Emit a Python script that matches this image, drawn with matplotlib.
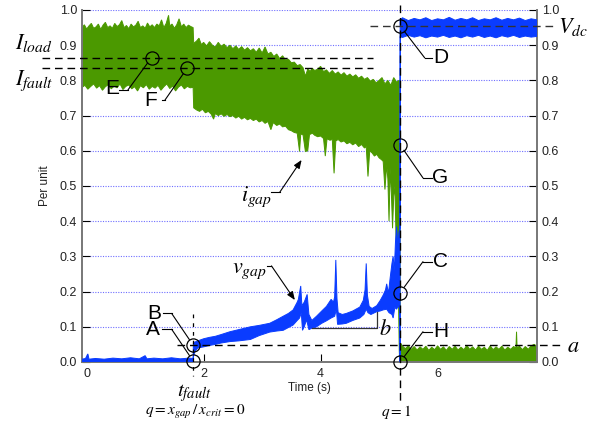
import numpy as np
import matplotlib
matplotlib.use("Agg")
import matplotlib.pyplot as plt

plt.rcParams['font.family'] = ['Liberation Sans', 'DejaVu Sans']
plt.rcParams['mathtext.fontset'] = 'stix'

# ---------------- data ----------------
# i_gap (per unit) envelope : (time s, value)
green_upper = [
    (-0.08, 0.950), (-0.04, 0.958), (0.00, 0.946), (0.04, 0.955), (0.08, 0.962), (0.12, 0.948),
    (0.16, 0.952), (0.20, 0.960), (0.24, 0.945), (0.28, 0.957), (0.32, 0.965), (0.36, 0.950),
    (0.40, 0.955), (0.44, 0.948), (0.48, 0.962), (0.52, 0.953), (0.56, 0.958), (0.60, 0.970),
    (0.64, 0.950), (0.68, 0.956), (0.72, 0.947), (0.76, 0.960), (0.80, 0.952), (0.84, 0.957),
    (0.88, 0.968), (0.92, 0.950), (0.96, 0.955), (1.00, 0.948), (1.04, 0.963), (1.08, 0.952),
    (1.12, 0.958), (1.16, 0.950), (1.20, 0.960), (1.24, 0.955), (1.28, 0.972), (1.32, 0.950),
    (1.36, 0.962), (1.40, 0.985), (1.42, 0.955), (1.46, 0.960), (1.50, 0.948), (1.54, 0.958),
    (1.58, 0.975), (1.62, 0.952), (1.66, 0.960), (1.70, 0.950), (1.74, 0.957), (1.78, 0.953),
    (1.82, 0.950),
    (1.83, 0.905), (1.88, 0.912), (1.92, 0.920), (1.96, 0.902), (2.00, 0.908), (2.05, 0.898),
    (2.10, 0.910), (2.15, 0.900), (2.20, 0.895), (2.25, 0.908), (2.30, 0.897), (2.35, 0.903),
    (2.40, 0.893), (2.45, 0.900), (2.50, 0.890), (2.55, 0.898), (2.60, 0.888), (2.65, 0.896),
    (2.70, 0.886), (2.75, 0.893), (2.80, 0.884), (2.85, 0.890), (2.90, 0.880), (2.95, 0.892),
    (3.00, 0.878), (3.05, 0.895), (3.10, 0.875), (3.15, 0.880), (3.20, 0.868), (3.25, 0.875),
    (3.30, 0.862), (3.35, 0.870), (3.40, 0.858), (3.45, 0.860), (3.50, 0.850), (3.55, 0.852),
    (3.60, 0.842), (3.65, 0.845), (3.70, 0.836), (3.74, 0.812), (3.78, 0.832), (3.82, 0.826),
    (3.86, 0.834), (3.90, 0.828), (3.95, 0.832), (4.00, 0.840), (4.05, 0.825), (4.10, 0.830),
    (4.15, 0.820), (4.20, 0.828), (4.25, 0.818), (4.30, 0.824), (4.35, 0.815), (4.40, 0.822),
    (4.45, 0.812), (4.50, 0.818), (4.55, 0.810), (4.60, 0.816), (4.65, 0.806), (4.70, 0.812),
    (4.75, 0.803), (4.80, 0.808), (4.85, 0.798), (4.90, 0.803), (4.95, 0.793), (5.00, 0.800),
    (5.05, 0.808), (5.10, 0.790), (5.15, 0.800), (5.20, 0.786), (5.25, 0.808), (5.30, 0.795),
    (5.34, 0.800), (5.355, 0.800),
    (5.36, 0.055), (5.40, 0.045), (5.45, 0.038), (5.50, 0.046), (5.55, 0.036), (5.60, 0.044),
    (5.65, 0.034), (5.70, 0.043), (5.75, 0.036), (5.80, 0.045), (5.85, 0.033), (5.90, 0.042),
    (5.95, 0.035), (6.00, 0.046), (6.05, 0.036), (6.10, 0.043), (6.15, 0.033), (6.20, 0.044),
    (6.25, 0.036), (6.30, 0.045), (6.35, 0.034), (6.40, 0.042), (6.45, 0.035), (6.50, 0.047),
    (6.55, 0.036), (6.60, 0.043), (6.65, 0.034), (6.70, 0.045), (6.75, 0.036), (6.80, 0.042),
    (6.85, 0.033), (6.90, 0.046), (6.95, 0.035), (7.00, 0.043), (7.05, 0.036), (7.10, 0.045),
    (7.15, 0.034), (7.20, 0.042), (7.25, 0.036), (7.30, 0.044), (7.34, 0.040), (7.35, 0.086),
    (7.36, 0.040), (7.40, 0.045), (7.45, 0.035), (7.50, 0.044), (7.55, 0.036), (7.60, 0.046),
    (7.65, 0.050), (7.70, 0.045),
]
green_lower = [
    (-0.08, 0.780), (-0.03, 0.786), (0.02, 0.775), (0.07, 0.783), (0.12, 0.790), (0.17, 0.778),
    (0.22, 0.785), (0.27, 0.772), (0.32, 0.782), (0.37, 0.788), (0.42, 0.776), (0.47, 0.784),
    (0.52, 0.779), (0.57, 0.790), (0.62, 0.774), (0.67, 0.783), (0.72, 0.787), (0.77, 0.776),
    (0.82, 0.782), (0.87, 0.770), (0.92, 0.785), (0.97, 0.779), (1.02, 0.788), (1.07, 0.775),
    (1.12, 0.783), (1.17, 0.778), (1.22, 0.786), (1.27, 0.772), (1.32, 0.782), (1.37, 0.790),
    (1.42, 0.777), (1.47, 0.784), (1.52, 0.770), (1.57, 0.781), (1.62, 0.787), (1.67, 0.776),
    (1.72, 0.783), (1.77, 0.779), (1.82, 0.780),
    (1.83, 0.722), (1.88, 0.716), (1.93, 0.712), (1.98, 0.718), (2.03, 0.708), (2.08, 0.712),
    (2.13, 0.704), (2.17, 0.690), (2.20, 0.706), (2.25, 0.700), (2.30, 0.705), (2.35, 0.698),
    (2.40, 0.703), (2.45, 0.697), (2.50, 0.700), (2.55, 0.693), (2.60, 0.698), (2.65, 0.690),
    (2.70, 0.695), (2.75, 0.688), (2.80, 0.692), (2.85, 0.686), (2.90, 0.690), (2.95, 0.682),
    (3.00, 0.686), (3.05, 0.678), (3.10, 0.683), (3.15, 0.660), (3.19, 0.680), (3.25, 0.672),
    (3.30, 0.676), (3.35, 0.668), (3.40, 0.670), (3.45, 0.660), (3.50, 0.657), (3.55, 0.652),
    (3.60, 0.650), (3.64, 0.598), (3.66, 0.648), (3.70, 0.645), (3.74, 0.598), (3.78, 0.600),
    (3.81, 0.646), (3.86, 0.650), (3.90, 0.644), (3.95, 0.640), (4.00, 0.642), (4.05, 0.635),
    (4.08, 0.585), (4.11, 0.634), (4.16, 0.630), (4.20, 0.632), (4.23, 0.536), (4.26, 0.628),
    (4.30, 0.632), (4.35, 0.625), (4.40, 0.628), (4.45, 0.620), (4.50, 0.624), (4.55, 0.617),
    (4.60, 0.622), (4.65, 0.612), (4.70, 0.618), (4.75, 0.608), (4.78, 0.612), (4.81, 0.527),
    (4.84, 0.600), (4.88, 0.594), (4.92, 0.585), (4.96, 0.590), (5.00, 0.580), (5.04, 0.575),
    (5.07, 0.570), (5.10, 0.490), (5.13, 0.560), (5.15, 0.520), (5.17, 0.400), (5.19, 0.550),
    (5.21, 0.480), (5.23, 0.380), (5.25, 0.470), (5.27, 0.500), (5.29, 0.350), (5.31, 0.300),
    (5.33, 0.200), (5.345, 0.030), (5.355, 0.000),
    (5.36, 0.000), (7.70, 0.000),
]
# v_gap (per unit) envelope : (time s, value)
blue_upper = [
    (-0.08, 0.008), (-0.02, 0.010), (0.02, 0.023), (0.04, 0.008), (0.15, 0.010), (0.30, 0.008),
    (0.45, 0.011), (0.60, 0.009), (0.75, 0.012), (0.90, 0.009), (1.00, 0.018), (1.03, 0.009),
    (1.15, 0.011), (1.30, 0.009), (1.45, 0.012), (1.60, 0.009), (1.75, 0.011), (1.82, 0.010),
    (1.825, 0.055), (1.90, 0.060), (2.00, 0.066), (2.10, 0.070), (2.20, 0.073), (2.30, 0.078),
    (2.45, 0.086), (2.60, 0.092), (2.80, 0.100), (2.95, 0.104), (3.13, 0.110), (3.25, 0.120),
    (3.36, 0.130), (3.45, 0.138), (3.53, 0.148), (3.60, 0.170), (3.62, 0.178), (3.66, 0.216),
    (3.68, 0.160), (3.72, 0.170), (3.77, 0.192), (3.80, 0.135), (3.85, 0.118), (3.93, 0.130),
    (4.02, 0.145), (4.10, 0.158), (4.18, 0.178), (4.22, 0.170), (4.24, 0.185), (4.26, 0.290),
    (4.28, 0.180), (4.30, 0.140), (4.37, 0.135), (4.44, 0.138), (4.55, 0.145), (4.67, 0.156),
    (4.73, 0.175), (4.76, 0.205), (4.78, 0.280), (4.80, 0.190), (4.83, 0.158), (4.88, 0.152),
    (4.96, 0.160), (5.02, 0.175), (5.07, 0.190), (5.11, 0.205), (5.13, 0.222), (5.16, 0.195),
    (5.19, 0.240), (5.22, 0.280), (5.24, 0.300), (5.26, 0.260), (5.28, 0.340), (5.30, 0.385),
    (5.32, 0.330), (5.34, 0.370), (5.355, 0.380),
    (5.36, 0.972), (5.40, 0.978), (5.50, 0.970), (5.60, 0.976), (5.70, 0.972), (5.80, 0.978),
    (5.90, 0.970), (6.00, 0.975), (6.10, 0.972), (6.20, 0.979), (6.30, 0.971), (6.40, 0.976),
    (6.50, 0.972), (6.60, 0.978), (6.70, 0.970), (6.80, 0.975), (6.90, 0.972), (7.00, 0.978),
    (7.10, 0.971), (7.20, 0.976), (7.30, 0.972), (7.40, 0.977), (7.50, 0.970), (7.60, 0.975),
    (7.70, 0.972),
]
blue_lower = [
    (-0.08, 0.000), (1.82, 0.000), (1.825, 0.015), (1.85, 0.030), (1.90, 0.040), (2.00, 0.043),
    (2.10, 0.047), (2.20, 0.050), (2.30, 0.054), (2.45, 0.058), (2.60, 0.060), (2.80, 0.064),
    (2.95, 0.075), (3.13, 0.085), (3.25, 0.088), (3.36, 0.090), (3.45, 0.098), (3.53, 0.105),
    (3.60, 0.118), (3.64, 0.125), (3.67, 0.140), (3.69, 0.090), (3.72, 0.100), (3.76, 0.120),
    (3.80, 0.092), (3.85, 0.096), (3.93, 0.100), (4.02, 0.110), (4.10, 0.117), (4.18, 0.125),
    (4.24, 0.130), (4.27, 0.150), (4.29, 0.107), (4.37, 0.108), (4.44, 0.110), (4.55, 0.118),
    (4.67, 0.125), (4.74, 0.135), (4.78, 0.150), (4.81, 0.140), (4.86, 0.135), (4.96, 0.143),
    (5.02, 0.145), (5.07, 0.148), (5.13, 0.150), (5.17, 0.140), (5.22, 0.135), (5.24, 0.125),
    (5.27, 0.155), (5.30, 0.150), (5.33, 0.160), (5.355, 0.150), (5.358, 0.000),
    (5.362, 0.925), (5.40, 0.922), (5.50, 0.928), (5.60, 0.923), (5.70, 0.927), (5.80, 0.921),
    (5.90, 0.926), (6.00, 0.923), (6.10, 0.928), (6.20, 0.922), (6.30, 0.926), (6.40, 0.921),
    (6.50, 0.927), (6.60, 0.923), (6.70, 0.928), (6.80, 0.922), (6.90, 0.926), (7.00, 0.921),
    (7.10, 0.927), (7.20, 0.923), (7.30, 0.928), (7.40, 0.922), (7.50, 0.926), (7.60, 0.923),
    (7.70, 0.925),
]

I_load = 0.865
I_fault = 0.834
V_dc = 0.955
a_level = 0.048
t_fault = 1.82
t_q1 = 5.36

xticks = [0, 2, 4, 6]
yticks = [0.0, 0.1, 0.2, 0.3, 0.4, 0.5, 0.6, 0.7, 0.8, 0.9, 1.0]

# circled points (time, value)
circles = {
    'A': (t_fault, 0.003), 'B': (t_fault, a_level),
    'C': (t_q1, 0.197), 'D': (t_q1, V_dc),
    'E': (1.11, I_load), 'F': (1.715, I_fault),
    'G': (t_q1, 0.617), 'H': (t_q1, 0.0),
}

GREEN = '#4b9900'
BLUE = '#0a3cff'

# ---------------- figure ----------------
fig = plt.figure(figsize=(6.05, 4.24), dpi=100)
ax = fig.add_axes([82 / 605, 1 - 362 / 424, 455 / 605, 352 / 424])
ax.set_xlim(-0.08, 7.70)
ax.set_ylim(0, 1.0)


def band(upper, lower, color, z):
    ut, uv = zip(*upper)
    lt, lv = zip(*lower)
    xs = np.r_[ut, lt[::-1]]
    ys = np.r_[uv, lv[::-1]]
    ax.fill(xs, ys, facecolor=color, edgecolor=color, lw=0.7, zorder=z)


band(green_upper, green_lower, GREEN, 2)
band(blue_upper, blue_lower, BLUE, 3)

# grid
for yv in yticks[1:]:
    ax.axhline(yv, color='#6f6fff', lw=0.8, ls=(0, (1, 1.3)), zorder=1)

# spines & ticks
ax.spines['top'].set_visible(False)
for s in ['left', 'right', 'bottom']:
    ax.spines[s].set_color('#777777')
    ax.spines[s].set_linewidth(1.4)
ax.set_xticks(xticks)
ax.set_xticklabels([str(v) for v in xticks])
ax.set_yticks(yticks)
ax.set_yticklabels([f'{v:.1f}' for v in yticks])
ax.tick_params(axis='y', which='both', direction='in', length=6, width=0.8, color='k',
               left=True, right=True, labelleft=True, labelright=True, labelsize=9,
               pad=3.5, labelcolor='#222222')
ax.tick_params(axis='x', direction='in', length=6, width=0.8, color='k', labelsize=9,
               pad=4.5, labelcolor='#222222')
ax.set_xlabel('Time (s)', fontsize=8.5, color='#222222')
ax.xaxis.set_label_coords(0.5, -0.056)
ax.set_ylabel('Per unit', fontsize=8.5, color='#222222')
ax.yaxis.set_label_coords(-0.068, 0.5)

# reference lines
dash = (0, (5.5, 3.5))
ax.plot([-0.77, 4.90], [I_load, I_load], color='k', lw=1.0, ls=dash, clip_on=False, zorder=5)
ax.plot([-0.77, 4.90], [I_fault, I_fault], color='k', lw=1.0, ls=dash, clip_on=False, zorder=5)
ax.plot([4.85, 7.97], [V_dc, V_dc], color='#333333', lw=1.0, ls=dash, clip_on=False, zorder=5)
ax.plot([1.54, 8.14], [a_level, a_level], color='k', lw=1.0, ls=dash, clip_on=False, zorder=5)
ax.plot([t_fault, t_fault], [0.135, -0.04], color='k', lw=0.9, ls=(0, (3, 4)), clip_on=False, zorder=5)
ax.plot([t_q1, t_q1], [1.015, -0.114], color='k', lw=1.0, ls=dash, clip_on=False, zorder=5)

# circles
MS = 9.5
for k, (cx, cy) in circles.items():
    ax.plot(cx, cy, 'o', ms=MS, mfc='none', mec='k', mew=0.9, clip_on=False, zorder=7)


def leader(path, target):
    xs, ys = zip(*path)
    ax.plot(xs, ys, color='k', lw=0.8, clip_on=False, zorder=7)
    ax.annotate('', xy=target, xytext=path[-1],
                arrowprops=dict(arrowstyle='-', color='k', lw=0.8, shrinkA=0, shrinkB=MS / 2),
                annotation_clip=False, zorder=7)


lab = dict(fontsize=15, color='k', ha='center', va='center', zorder=8)
ax.text(0.43, 0.778, 'E', **lab)
leader([(0.545, 0.773), (0.706, 0.773)], circles['E'])
ax.text(1.10, 0.744, 'F', **lab)
leader([(1.287, 0.744), (1.338, 0.744)], circles['F'])
ax.text(6.05, 0.864, 'D', **lab)
leader([(5.90, 0.864), (5.78, 0.864)], circles['D'])
ax.text(6.05, 0.523, 'G', **lab)
leader([(5.90, 0.523), (5.75, 0.523)], circles['G'])
ax.text(6.05, 0.285, 'C', **lab)
leader([(5.90, 0.285), (5.75, 0.285)], circles['C'])
ax.text(6.05, 0.086, 'H', **lab)
leader([(5.90, 0.086), (5.75, 0.086)], circles['H'])
ax.text(1.16, 0.139, 'B', **lab)
leader([(1.30, 0.138), (1.453, 0.138)], circles['B'])
ax.text(1.13, 0.091, 'A', **lab)
leader([(1.28, 0.093), (1.453, 0.093)], circles['A'])

# math labels
m = dict(color='k', zorder=8)
ax.text(-0.90, 0.905, r'$I_{load}$', fontsize=16, ha='center', va='center', **m)
ax.text(-0.90, 0.800, r'$I_{fault}$', fontsize=16, ha='center', va='center', **m)
ax.text(8.06, 0.952, r'$V_{dc}$', fontsize=16, ha='left', va='center', **m)
ax.text(8.22, 0.045, r'$a$', fontsize=16, ha='left', va='center', **m)
ax.text(t_fault + 0.02, -0.088, r'$t_{fault}$', fontsize=15, ha='center', va='center', **m)
ax.text(t_fault + 0.04, -0.143, r'$q = x_{gap}\,/\,x_{crit} = 0$', fontsize=11, ha='center', va='center', **m)
ax.text(t_q1 - 0.06, -0.141, r'$q = 1$', fontsize=11, ha='center', va='center', **m)

# i_gap / v_gap arrows
ax.text(2.91, 0.47, r'$i_{gap}$', fontsize=16, ha='center', va='center', **m)
ax.plot([3.16, 3.30], [0.482, 0.482], color='k', lw=0.8, zorder=7)
ax.annotate('', xy=(3.675, 0.574), xytext=(3.30, 0.482),
            arrowprops=dict(arrowstyle='-|>,head_length=0.5,head_width=0.2', color='k', lw=0.8,
                            shrinkA=0, shrinkB=0), zorder=7)
ax.text(2.79, 0.259, r'$v_{gap}$', fontsize=16, ha='center', va='center', **m)
ax.plot([3.08, 3.16], [0.273, 0.273], color='k', lw=0.8, zorder=7)
ax.annotate('', xy=(3.56, 0.176), xytext=(3.16, 0.273),
            arrowprops=dict(arrowstyle='-|>,head_length=0.5,head_width=0.2', color='k', lw=0.8,
                            shrinkA=0, shrinkB=0), zorder=7)

# b bracket
ax.plot([3.846, 4.96, 4.96], [0.0974, 0.0974, 0.143], color='#333333', lw=0.9, zorder=7)
ax.text(5.00, 0.092, r'$b$', fontsize=16, ha='left', va='center', **m)

fig.savefig('out.png', dpi=100)
